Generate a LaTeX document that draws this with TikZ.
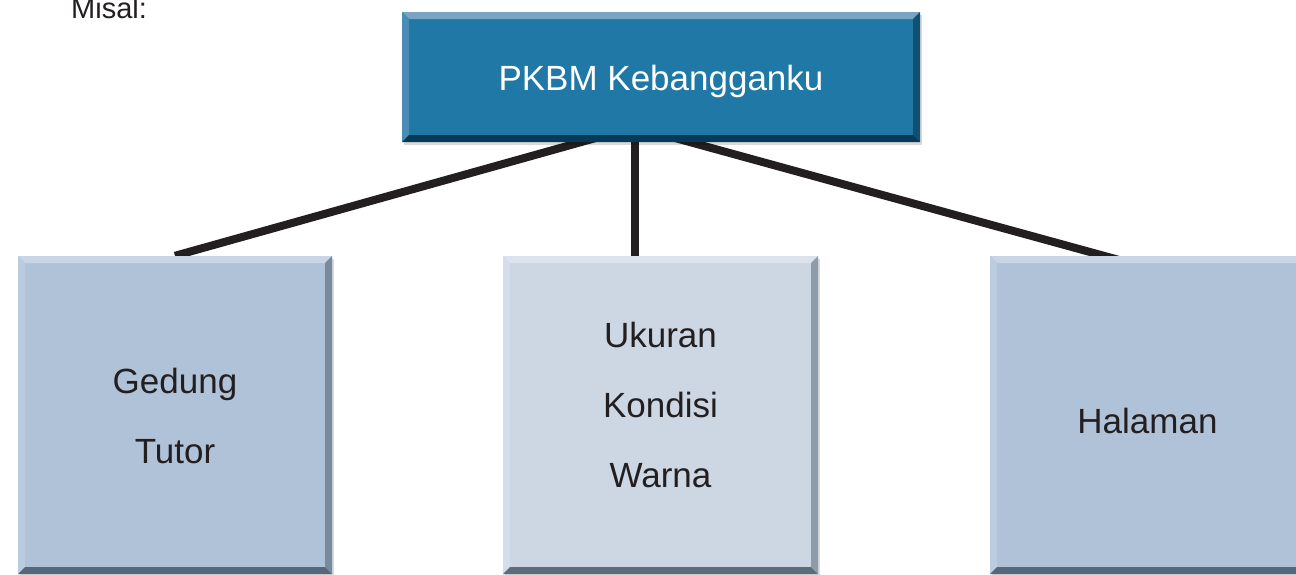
\documentclass[tikz,border=0pt]{standalone}
\usepackage{fontspec}
\setmainfont{Liberation Sans}
\usetikzlibrary{shadows}
\pgfdeclarelayer{background}
\pgfsetlayers{background,main}
\definecolor{topmain}{HTML}{1F78A5}
\definecolor{topT}{HTML}{7AA3C4}
\definecolor{topL}{HTML}{4A8CB6}
\definecolor{topR}{HTML}{0F5073}
\definecolor{topB}{HTML}{073A55}
\definecolor{sidemain}{HTML}{B0C2D8}
\definecolor{sideT}{HTML}{C9D5E4}
\definecolor{sideL}{HTML}{BCCCDF}
\definecolor{sideR}{HTML}{778A9E}
\definecolor{sideB}{HTML}{56677A}
\definecolor{midmain}{HTML}{CDD7E4}
\definecolor{midT}{HTML}{DCE3EC}
\definecolor{midL}{HTML}{D4DDE8}
\definecolor{midR}{HTML}{8E9BAA}
\definecolor{midB}{HTML}{5E6B7A}
\definecolor{ink}{HTML}{231F20}
\newcommand{\bw}{7pt}
\tikzset{
  boxnode/.style={draw=none, inner sep=0pt,
    drop shadow={shadow xshift=2pt, shadow yshift=-3pt, opacity=0.15, fill=black}},
  bevel/.style n args={4}{path picture={
    \coordinate (NW) at (path picture bounding box.north west);
    \coordinate (NE) at (path picture bounding box.north east);
    \coordinate (SW) at (path picture bounding box.south west);
    \coordinate (SE) at (path picture bounding box.south east);
    \fill[#1] (NW) -- (NE) -- ([shift={(-\bw,-\bw)}]NE) -- ([shift={(\bw,-\bw)}]NW) -- cycle;
    \fill[#2] (NW) -- ([shift={(\bw,-\bw)}]NW) -- ([shift={(\bw,\bw)}]SW) -- (SW) -- cycle;
    \fill[#3] (NE) -- (SE) -- ([shift={(-\bw,\bw)}]SE) -- ([shift={(-\bw,-\bw)}]NE) -- cycle;
    \fill[#4] (SW) -- (SE) -- ([shift={(-\bw,\bw)}]SE) -- ([shift={(\bw,\bw)}]SW) -- cycle;
  }},
  txt/.style={anchor=base, inner sep=0pt, text=ink, font=\fontsize{35}{42}\selectfont},
  conn/.style={line width=8pt, draw=ink},
}
\begin{document}
\begin{tikzpicture}[x=1pt,y=-1pt]
\useasboundingbox (0,0) rectangle (1296,574);
\clip (0,0) rectangle (1296,574);

\node[txt, anchor=base west, font=\fontsize{29}{34}\selectfont] (misal) at (71,18) {Misal:};

\node[boxnode, fill=topmain, minimum width=518pt, minimum height=130pt,
  bevel={topT}{topL}{topR}{topB}] (top) at (661,77) {};
\node[txt, text=white] (toptxt) at (661,90) {PKBM Kebangganku};

\node[boxnode, fill=sidemain, minimum width=314pt, minimum height=318pt,
  bevel={sideT}{sideL}{sideR}{sideB}] (g) at (175,415) {};
\node[boxnode, fill=midmain, minimum width=315pt, minimum height=318pt,
  bevel={midT}{midL}{midR}{midB}] (m) at (660.5,415) {};
\node[boxnode, fill=sidemain, minimum width=315pt, minimum height=318pt,
  bevel={sideT}{sideL}{sideR}{sideB}] (r) at (1147.5,415) {};

\node[txt] (g1) at (175,393) {Gedung};
\node[txt] (g2) at (175,463) {Tutor};
\node[txt] (m1) at (660.5,347) {Ukuran};
\node[txt] (m2) at (660.5,417) {Kondisi};
\node[txt] (m3) at (660.5,487) {Warna};
\node[txt] (r1) at (1147.5,433) {Halaman};

\coordinate (hub) at (635,127);
\coordinate (rend) at ([yshift=-12pt]r.north);
\begin{pgfonlayer}{background}
  \fill[white] (0,0) rectangle (1296,574);
  \draw[conn] (hub) -- (g.north);
  \draw[conn] (hub) -- (hub |- m.north);
  \draw[conn] (hub) -- (rend);
\end{pgfonlayer}
\end{tikzpicture}
\end{document}
